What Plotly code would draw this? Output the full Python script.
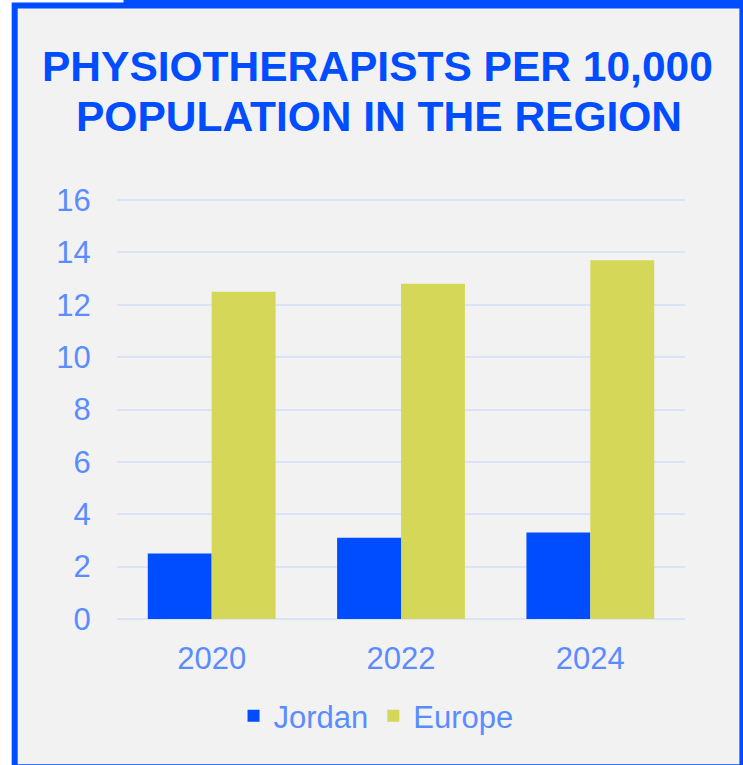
import plotly.graph_objects as go

years = ["2020", "2022", "2024"]
jordan = [2.5, 3.1, 3.3]
europe = [12.5, 12.8, 13.7]
y_ticks = [0, 2, 4, 6, 8, 10, 12, 14, 16]

BLUE = "#004DFF"
GREEN = "#D4D757"
LABEL = "#5B8CFF"
GRID = "#DAE3F8"
FONT = "Liberation Sans, Arial, sans-serif"

fig = go.Figure()
fig.add_trace(go.Bar(name="Jordan", x=years, y=jordan, marker_color=BLUE, marker_line_width=0))
fig.add_trace(go.Bar(name="Europe", x=years, y=europe, marker_color=GREEN, marker_line_width=0))

W, H = 743, 765
UNIT = 26.19
PAD = 0.04
L, R = 116.5, 57.5
T = 199.6 - PAD * UNIT
B = (H - 618.7) - PAD * UNIT
pw = W - L - R
ph = H - T - B

def px_x(p):
    return (p - L) / pw

def px_y(p):
    return (H - B - p) / ph

fig.update_layout(
    width=W, height=H,
    margin=dict(l=L, r=R, t=T, b=B, autoexpand=False),
    paper_bgcolor="white",
    plot_bgcolor="rgba(0,0,0,0)",
    barmode="group",
    bargap=0.325,
    bargroupgap=0,
    font=dict(family=FONT, color=LABEL, size=31),
    showlegend=True,
    legend=dict(orientation="h", x=px_x(376), y=px_y(716), xanchor="center", yanchor="middle",
                font=dict(family=FONT, color=LABEL, size=31), bgcolor="rgba(0,0,0,0)",
                traceorder="normal"),
    xaxis=dict(showgrid=False, zeroline=False, showline=False, ticks="outside", ticklen=11,
               tickcolor="rgba(0,0,0,0)", tickfont=dict(family=FONT, color=LABEL, size=31)),
    yaxis=dict(range=[-PAD, 16 + PAD], tickvals=y_ticks, showgrid=True, gridcolor=GRID, gridwidth=1.5,
               zeroline=False, showline=False, ticks="outside", ticklen=19,
               tickcolor="rgba(0,0,0,0)", tickfont=dict(family=FONT, color=LABEL, size=31)),
    shapes=[
        dict(type="rect", xref="paper", yref="paper", layer="below",
             x0=px_x(14), x1=px_x(743), y0=px_y(767), y1=px_y(5),
             line=dict(color=BLUE, width=6), fillcolor="#F2F2F2"),
        dict(type="line", xref="paper", yref="paper", layer="below",
             x0=px_x(123), x1=px_x(746), y0=px_y(1), y1=px_y(1),
             line=dict(color=BLUE, width=3)),
    ],
    annotations=[
        dict(text="<b>PHYSIOTHERAPISTS PER 10,000</b>", xref="paper", yref="paper",
             x=px_x(377), y=px_y(66), xanchor="center", yanchor="middle", showarrow=False,
             font=dict(family=FONT, color=BLUE, size=42.5)),
        dict(text="<b>POPULATION IN THE REGION</b>", xref="paper", yref="paper",
             x=px_x(379), y=px_y(115.7), xanchor="center", yanchor="middle", showarrow=False,
             font=dict(family=FONT, color=BLUE, size=42.5)),
    ],
)

fig.write_html("out.html", config={"displayModeBar": False},
               post_script="document.body.style.margin='0';document.body.style.padding='0';")
